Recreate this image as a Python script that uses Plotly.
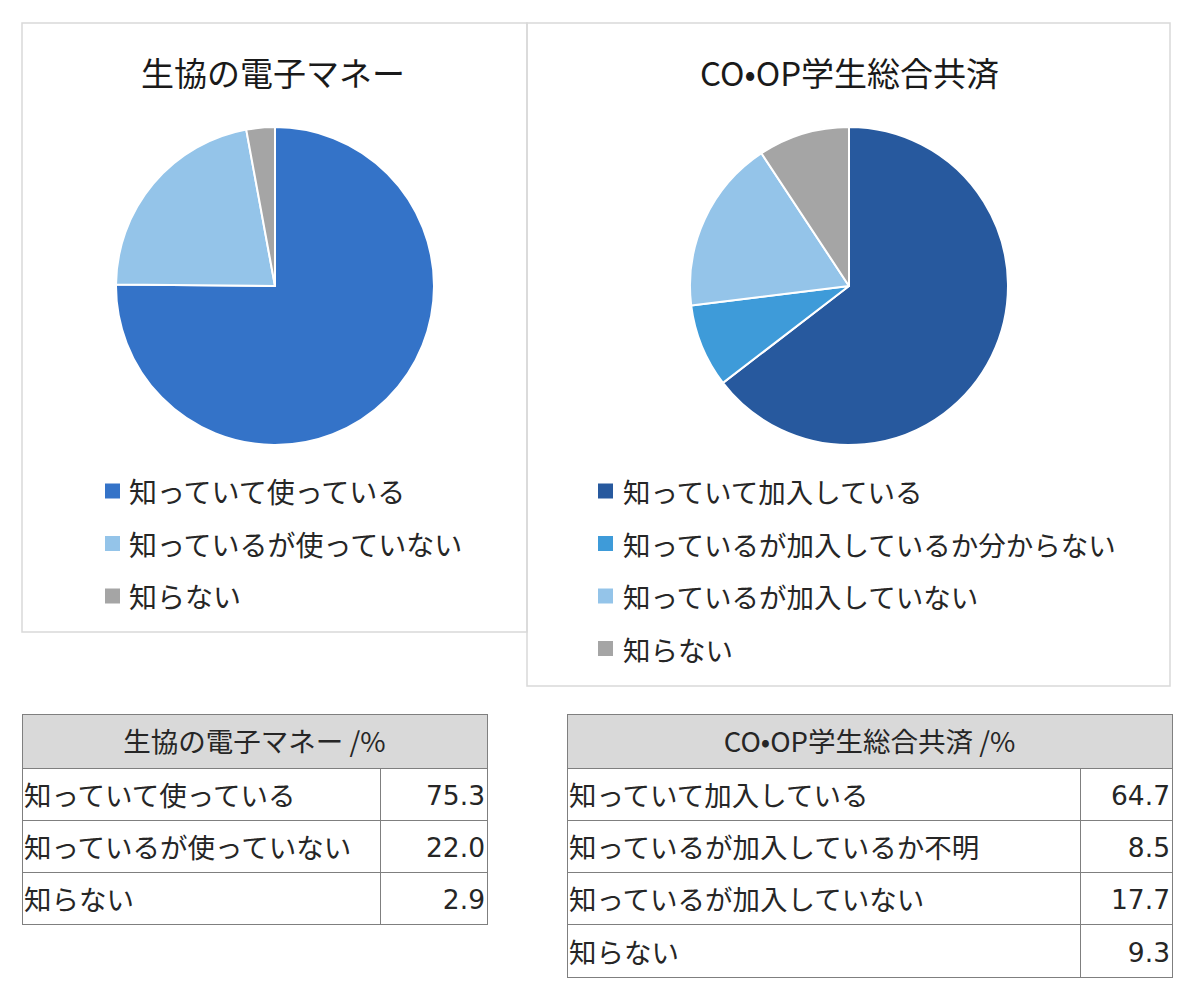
import plotly.graph_objects as go

W, H = 1200, 1002

# ---- data ----
title_a = "生協の電子マネー"
labels_a = ["知っていて使っている", "知っているが使っていない", "知らない"]
values_a = [75.3, 22.0, 2.9]
colors_a = ["#3473C8", "#94C4E9", "#A5A5A5"]

title_b = "CO•OP学生総合共済"
labels_b = ["知っていて加入している", "知っているが加入しているか分からない",
            "知っているが加入していない", "知らない"]
table_labels_b = ["知っていて加入している", "知っているが加入しているか不明",
                  "知っているが加入していない", "知らない"]
values_b = [64.7, 8.5, 17.7, 9.3]
colors_b = ["#27599E", "#3E9BD9", "#94C4E9", "#A5A5A5"]

JP = "Noto Sans CJK JP"
NUM = "DejaVu Sans, Noto Sans CJK JP"
TXT = "#262626"
CLEAR = "rgba(0,0,0,0)"


def X(px):
    return px / W


def Y(py):
    return 1 - py / H


fig = go.Figure()

# ---- pies ----
for vals, labs, cols, cx in [(values_a, labels_a, colors_a, 275),
                              (values_b, labels_b, colors_b, 849)]:
    r = 159
    fig.add_trace(go.Pie(
        values=vals, labels=labs, sort=False, direction="clockwise", rotation=0,
        marker=dict(colors=cols, line=dict(color="white", width=2)),
        textinfo="none", hoverinfo="label+value", showlegend=False,
        domain=dict(x=[X(cx - r), X(cx + r)], y=[Y(286 + r), Y(286 - r)]),
    ))

shapes = []
annotations = []

# chart boxes
shapes.append(dict(type="rect", xref="paper", yref="paper",
                   x0=X(22), x1=X(527), y0=Y(632), y1=Y(23),
                   line=dict(color="#D9D9D9", width=1.5), layer="below"))
shapes.append(dict(type="rect", xref="paper", yref="paper",
                   x0=X(527), x1=X(1170), y0=Y(686), y1=Y(23),
                   line=dict(color="#D9D9D9", width=1.5), layer="below"))

# titles
for t, cx in [(title_a, 273), (title_b, 849)]:
    annotations.append(dict(text=t, x=X(cx), y=Y(72), xref="paper", yref="paper",
                            xanchor="center", yanchor="middle", showarrow=False,
                            font=dict(family=JP, size=33, color="#1a1a1a")))

# manual legends
for labs, cols, mx, tx, fs in [(labels_a, colors_a, 105, 127, 28),
                               (labels_b, colors_b, 598, 621, 27.5)]:
    for i, (lab, col) in enumerate(zip(labs, cols)):
        yc = 491 + i * 52.5
        shapes.append(dict(type="rect", xref="paper", yref="paper",
                           x0=X(mx), x1=X(mx + 15), y0=Y(yc + 7.5), y1=Y(yc - 7.5),
                           fillcolor=col, line=dict(width=0)))
        annotations.append(dict(text=lab, x=X(tx), y=Y(yc), xref="paper", yref="paper",
                                xanchor="left", yanchor="middle", showarrow=False,
                                font=dict(family=JP, size=fs, color=TXT)))

# ---- tables (grid layer + text layer shifted to centre text vertically) ----
LINE = "#7F7F7F"
RH = 52.3
HH = 54
DY = 9     # vertical text shift
DX = 6     # horizontal text shift (reduce cell padding)
for title, labs, vals, x0, x1, xsplit in [
        (title_a, labels_a, values_a, 22, 487, 380),
        (title_b, table_labels_b, values_b, 567, 1172, 1080)]:
    n = len(labs)
    vtxt = [f"{v:.1f}" for v in vals]
    top = 714
    body = top + HH
    # header grid
    fig.add_trace(go.Table(
        domain=dict(x=[X(x0), X(x1)], y=[Y(body + 2), Y(top)]),
        header=dict(values=[""], fill_color="#D9D9D9", height=HH,
                    line=dict(color=LINE, width=1)),
        cells=dict(values=[[]]),
    ))
    # header text
    fig.add_trace(go.Table(
        domain=dict(x=[X(x0), X(x1)], y=[Y(body + DY), Y(top + DY)]),
        header=dict(values=[title + " /%"], fill_color=CLEAR, height=HH,
                    line=dict(color=CLEAR, width=0), align="center",
                    font=dict(family=JP, size=27.5, color=TXT)),
        cells=dict(values=[[]]),
    ))
    # body grid
    fig.add_trace(go.Table(
        domain=dict(x=[X(x0), X(x1)], y=[Y(body + RH * n + 4), Y(body)]),
        columnwidth=[xsplit - x0, x1 - xsplit],
        header=dict(values=["", ""], fill_color="white", height=RH,
                    line=dict(color=LINE, width=1)),
        cells=dict(values=[[""] * (n - 1), [""] * (n - 1)],
                   fill_color="white", height=RH,
                   line=dict(color=LINE, width=1)),
    ))
    # body text
    fig.add_trace(go.Table(
        domain=dict(x=[X(x0 - DX), X(x1 + DX)], y=[Y(body + RH * n + DY + 4), Y(body + DY)]),
        columnwidth=[xsplit - x0 + DX, x1 - xsplit + DX],
        header=dict(values=[labs[0], vtxt[0]], fill_color=CLEAR, height=RH,
                    line=dict(color=CLEAR, width=0), align=["left", "right"],
                    font=dict(family=[JP, NUM], size=[27.5, 26.5], color=TXT)),
        cells=dict(values=[labs[1:], vtxt[1:]], fill_color=CLEAR, height=RH,
                   line=dict(color=CLEAR, width=0), align=["left", "right"],
                   font=dict(family=[JP, NUM], size=[27.5, 26.5], color=TXT)),
    ))

fig.update_layout(
    width=W, height=H, margin=dict(l=0, r=0, t=0, b=0),
    paper_bgcolor="white", plot_bgcolor="white",
    shapes=shapes, annotations=annotations,
)

fig.write_html("out.html")
